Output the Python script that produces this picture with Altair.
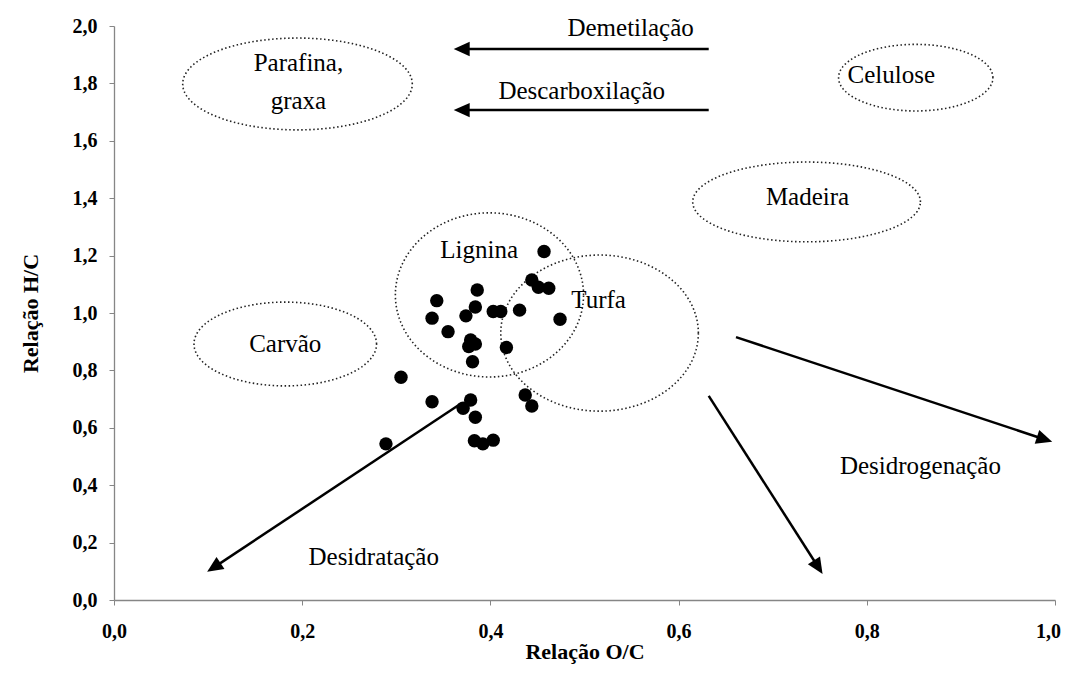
import altair as alt
import pandas as pd
import numpy as np

# ---- scatter data (O/C, H/C) ----
oc = [0.457, 0.444, 0.451, 0.462, 0.343, 0.386, 0.384, 0.374, 0.338, 0.403,
      0.411, 0.431, 0.355, 0.379, 0.384, 0.377, 0.417, 0.381, 0.305, 0.338,
      0.379, 0.371, 0.384, 0.437, 0.444, 0.383, 0.392, 0.403, 0.289, 0.474]
hc = [1.214, 1.115, 1.090, 1.086, 1.043, 1.080, 1.021, 0.990, 0.982, 1.005,
      1.005, 1.010, 0.935, 0.906, 0.892, 0.883, 0.880, 0.830, 0.776, 0.691,
      0.697, 0.668, 0.637, 0.714, 0.676, 0.555, 0.544, 0.557, 0.544, 0.978]

# ---- dotted regions (centre and radii in O/C, H/C units) ----
ell_names = ["Parafina", "Celulose", "Madeira", "Carvão", "Lignina", "Turfa"]
ell_cx = [0.195, 0.852, 0.736, 0.182, 0.399, 0.516]
ell_cy = [1.798, 1.820, 1.387, 0.892, 1.063, 0.930]
ell_rx = [0.122, 0.082, 0.121, 0.097, 0.100, 0.105]
ell_ry = [0.160, 0.116, 0.139, 0.146, 0.286, 0.272]

# ---- text labels ----
lab_text = ["Parafina,", "graxa", "Celulose", "Madeira", "Carvão", "Lignina",
            "Turfa", "Demetilação", "Descarboxilação", "Desidrogenação", "Desidratação"]
lab_x = [0.196, 0.196, 0.826, 0.737, 0.182, 0.388, 0.515, 0.549, 0.497, 0.857, 0.276]
lab_y = [1.871, 1.739, 1.829, 1.404, 0.892, 1.219, 1.045, 1.994, 1.774, 0.467, 0.150]

# ---- arrows (start -> tip) ----
arr_x1 = [0.632, 0.632, 0.368, 0.661, 0.632]
arr_y1 = [1.920, 1.707, 0.683, 0.916, 0.711]
arr_x2 = [0.361, 0.361, 0.099, 0.997, 0.753]
arr_y2 = [1.920, 1.707, 0.098, 0.551, 0.091]

W, H = 941, 574
XMAX, YMAX = 1.0, 2.0
pxx, pxy = W / XMAX, H / YMAX

FONT = "Liberation Serif"

pts = pd.DataFrame({"oc": oc, "hc": hc})

rows = []
for n, cx, cy, rx, ry in zip(ell_names, ell_cx, ell_cy, ell_rx, ell_ry):
    for i, t in enumerate(np.linspace(0, 2 * np.pi, 241)):
        rows.append({"name": n, "i": i, "x": cx + rx * np.cos(t), "y": cy + ry * np.sin(t)})
ell = pd.DataFrame(rows)

labs = pd.DataFrame({"t": lab_text, "x": lab_x, "y": lab_y})

arows = []
for x1, y1, x2, y2 in zip(arr_x1, arr_y1, arr_x2, arr_y2):
    dxp = (x2 - x1) * pxx
    dyp = -(y2 - y1) * pxy
    L = np.hypot(dxp, dyp)
    ux, uy = dxp / L, dyp / L
    back = 10.0
    ang = np.degrees(np.arctan2(dxp, -dyp)) % 360
    arows.append({"x1": x1, "y1": y1,
                  "x2": x2 - ux * back / pxx, "y2": y2 + uy * back / pxy,
                  "tx": x2, "ty": y2, "ang": ang})
arr = pd.DataFrame(arows)

xs = alt.Scale(domain=[0, XMAX], nice=False, zero=False)
ys = alt.Scale(domain=[0, YMAX], nice=False, zero=False)

label_expr = "replace(format(datum.value, '.1f'), '.', ',')"

xaxis = alt.Axis(values=[0, 0.2, 0.4, 0.6, 0.8, 1.0], labelExpr=label_expr,
                 title="Relação O/C", grid=False, labelFlush=False,
                 labelOffset={"expr": "datum.value >= 1 ? -7 : 0"},
                 titleY=51, titleBaseline="middle")
yaxis = alt.Axis(values=[0, 0.2, 0.4, 0.6, 0.8, 1.0, 1.2, 1.4, 1.6, 1.8, 2.0],
                 labelExpr=label_expr, title="Relação H/C", grid=False,
                 labelFlush=False, titleX=-84, titleBaseline="middle")

ellipses = alt.Chart(ell).mark_line(
    color="#222222", strokeWidth=1.6, strokeDash=[1.5, 2.5]
).encode(
    x=alt.X("x:Q", scale=xs, axis=xaxis),
    y=alt.Y("y:Q", scale=ys, axis=yaxis),
    detail="name:N",
    order="i:Q",
)

points = alt.Chart(pts).mark_circle(color="black", opacity=1, size=180).encode(
    x=alt.X("oc:Q", scale=xs),
    y=alt.Y("hc:Q", scale=ys),
)

lines = alt.Chart(arr).mark_rule(color="black", strokeWidth=2.5).encode(
    x=alt.X("x1:Q", scale=xs), y=alt.Y("y1:Q", scale=ys),
    x2="x2:Q", y2="y2:Q",
)

heads = alt.Chart(arr).mark_point(
    shape="M0,0 L0.45,1 L-0.45,1 Z", filled=True, size=1024,
    color="black", opacity=1, strokeWidth=0
).encode(
    x=alt.X("tx:Q", scale=xs), y=alt.Y("ty:Q", scale=ys),
    angle=alt.Angle("ang:Q", scale=None),
)

texts = alt.Chart(labs).mark_text(
    font=FONT, fontSize=25, color="black", align="center", baseline="middle"
).encode(
    x=alt.X("x:Q", scale=xs), y=alt.Y("y:Q", scale=ys), text="t:N",
)

chart = alt.layer(ellipses, points, lines, heads, texts).properties(
    width=W, height=H,
    autosize=alt.AutoSizeParams(type="none"),
    padding={"left": 106, "top": 18, "right": 7, "bottom": 75},
    background="white",
).configure_view(stroke=None).configure_axis(
    domainColor="#868686", tickColor="#868686", tickSize=5, domainWidth=1.3,
    labelFont=FONT, labelFontWeight="bold", labelFontSize=20, labelColor="black",
    titleFont=FONT, titleFontWeight="bold", titleFontSize=22, titleColor="black",
).configure_axisX(labelPadding=16).configure_axisY(labelPadding=12)

chart.save("out.html", embed_options={"renderer": "svg", "actions": False})
